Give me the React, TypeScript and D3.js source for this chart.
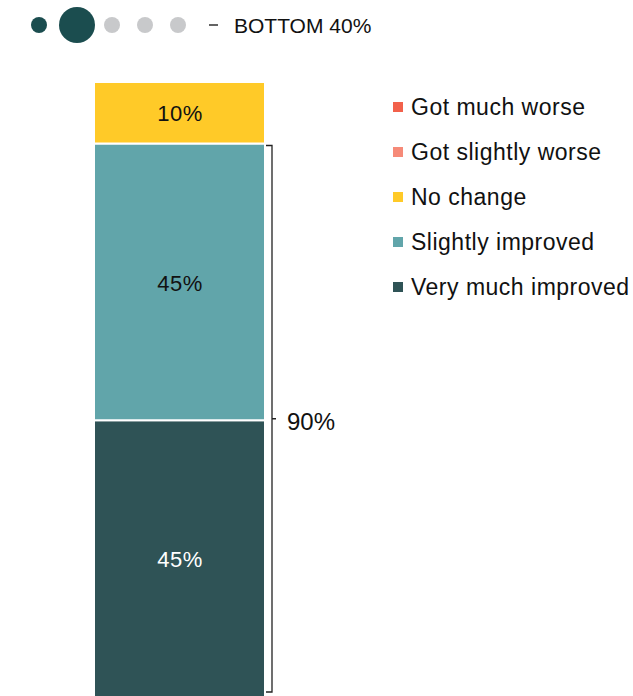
import React from "react";
import * as d3 from "d3";

const categories = ["Got much worse", "Got slightly worse", "No change", "Slightly improved", "Very much improved"];
const values = [0, 0, 10, 45, 45];
const colors = ["#f2614b", "#f68a78", "#ffca28", "#61a5aa", "#2f5356"];
const labelColors = ["#000", "#000", "#111", "#111", "#fff"];
const groupLabel = "BOTTOM 40%";
const bracketLabel = "90%";
const bracketValue = 90;
const dots = [
  { r: 8, fill: "#1b4d4f" },
  { r: 18, fill: "#1b4d4f" },
  { r: 8, fill: "#c8c9cb" },
  { r: 8, fill: "#c8c9cb" },
  { r: 8, fill: "#c8c9cb" },
];

const W = 633;
const H = 696;
const font = "'Liberation Sans', Arial, sans-serif";

export default function App() {
  const y = d3.scaleLinear().domain([0, 100]).range([697, 82]);
  const barX0 = 94;
  const barX1 = 265;
  const order = [...categories.keys()].reverse();
  let acc = 0;
  const segs = order.map((i) => {
    const s = { i, y0: acc, y1: acc + values[i] };
    acc += values[i];
    return s;
  });
  const dotXs = [39, 77, 112, 145, 178];
  const legendY = d3.scalePoint<string>().domain(categories).range([107, 287]);
  const bx = 272;
  const bTop = y(bracketValue) + 2;
  const bBot = y(0) - 5;
  const bMid = (bTop + bBot) / 2;

  return (
    <div style={{ position: "absolute", left: 0, top: 0 }}>
      <svg width={W} height={H} style={{ display: "block" }}>
        <rect width={W} height={H} fill="#fff" />
        {dots.map((d, i) => (
          <circle key={i} cx={dotXs[i]} cy={25} r={d.r} fill={d.fill} />
        ))}
        <line x1={209} x2={218} y1={25} y2={25} stroke="#222" strokeWidth={1.4} />
        <text x={234} y={32.5} fontFamily={font} fontSize={21} fill="#111">
          {groupLabel}
        </text>
        {segs.filter((s) => s.y1 > s.y0).map((s) => (
          <g key={s.i}>
            <rect
              x={barX0}
              width={barX1 - barX0}
              y={y(s.y1)}
              height={y(s.y0) - y(s.y1)}
              fill={colors[s.i]}
              stroke="#fff"
              strokeWidth={2}
            />
            <text
              x={(barX0 + barX1) / 2 + 0.5}
              y={(y(s.y0) + y(s.y1)) / 2 + 1}
              dy="0.35em"
              textAnchor="middle"
              fontFamily={font}
              fontSize={22}
              letterSpacing={0.5}
              fill={labelColors[s.i]}
            >
              {values[s.i]}%
            </text>
          </g>
        ))}
        <path
          d={`M${bx - 6},${bTop} H${bx} V${bBot} H${bx - 6} M${bx},${bMid} H${bx + 4}`}
          fill="none"
          stroke="#222"
          strokeWidth={1.3}
        />
        <text x={287} y={bMid + 3} dy="0.35em" fontFamily={font} fontSize={24} fill="#111">
          {bracketLabel}
        </text>
        {categories.map((c, i) => (
          <g key={c}>
            <rect x={393} y={(legendY(c) as number) - 5} width={10} height={10} fill={colors[i]} />
            <text
              x={411}
              y={legendY(c) as number}
              dy="0.35em"
              fontFamily={font}
              fontSize={23}
              letterSpacing={0.5}
              fill="#111"
            >
              {c}
            </text>
          </g>
        ))}
      </svg>
    </div>
  );
}
